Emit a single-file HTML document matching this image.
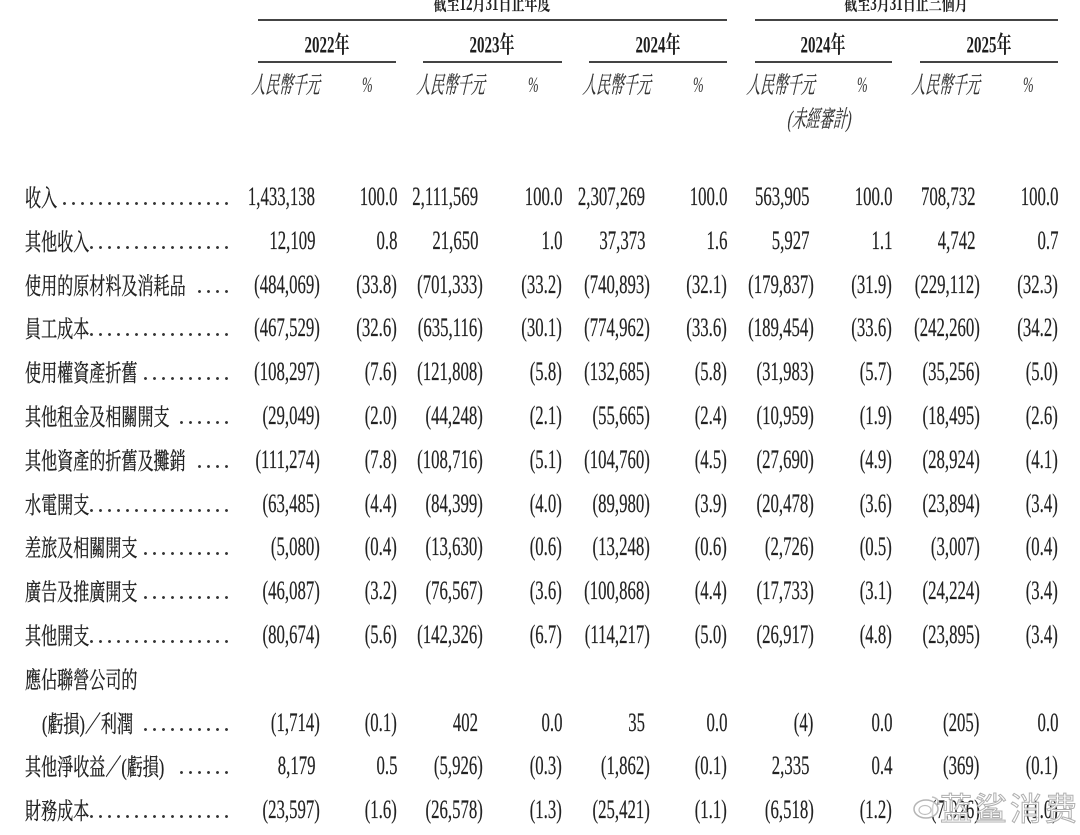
<!DOCTYPE html>
<html><head><meta charset="utf-8">
<style>
html,body{margin:0;padding:0;background:#fff;}
body{width:1080px;height:835px;position:relative;overflow:hidden;color:#222;}
.ln{position:absolute;height:2px;background:#444;}
.h{position:absolute;width:300px;text-align:center;font:bold 20px/20px "Liberation Serif","Noto Serif CJK SC",serif;transform:scaleX(.65);transform-origin:50% 50%;white-space:nowrap;color:#222;}
.y{position:absolute;width:200px;text-align:center;font:bold 22px/22px "Liberation Serif","Noto Serif CJK SC",serif;transform:scaleX(.68) scaleY(1.05);transform-origin:50% 50%;white-space:nowrap;top:34px;color:#1e1e1e;}
.u{position:absolute;top:76px;font:italic 20px/20px "Liberation Serif","Noto Serif CJK SC",serif;transform:scaleX(.68) scaleY(1.18) skewX(-8deg);transform-origin:0 50%;white-space:nowrap;color:#333;-webkit-text-stroke:.2px #333;}
.pc{position:absolute;top:75px;font:italic 22px/20px "Liberation Serif",serif;transform:scaleX(.58);transform-origin:0 50%;color:#333;}
.r{position:absolute;left:0;width:1080px;height:30px;}
.l{position:absolute;left:25px;top:6px;font:21px/20px "Liberation Serif","Noto Serif CJK SC",serif;transform:scaleX(.765) scaleY(1.12);transform-origin:0 50%;white-space:nowrap;-webkit-text-stroke:.3px #222;}
.d{position:absolute;top:20px;height:3px;background:radial-gradient(circle,#333 1.2px,transparent 1.7px) right top/9px 3px repeat-x;}
.d19{left:60px;width:171px}.d16{left:87px;width:144px}.d10{left:141px;width:90px}.d6{left:177px;width:54px}.d4{left:195px;width:36px}
.n{position:absolute;top:0;font:26px/30px "Liberation Serif",serif;transform:scaleX(.645);transform-origin:100% 50%;white-space:nowrap;-webkit-text-stroke:.2px #222;}
.a1{right:765px}.a2{right:602px}.a3{right:435px}.a4{right:271px}.a5{right:105px}
.b1{right:760.5px}.b2{right:597.5px}.b3{right:430.5px}.b4{right:266.5px}.b5{right:100.5px}
.p1{right:683px}.p2{right:518px}.p3{right:353px}.p4{right:188px}.p5{right:22px}
.wm{position:absolute;left:940px;top:791px;font:32px/32px "Noto Sans CJK SC",sans-serif;letter-spacing:3px;color:rgba(255,255,255,.85);-webkit-text-stroke:1px #b0b0b0;white-space:nowrap;}
</style></head>
<body>

<div class="h" style="left:342px;top:-6px">截至12月31日止年度</div>
<div class="h" style="left:756px;top:-6px">截至3月31日止三個月</div>
<div class="ln" style="top:19px;left:258px;width:469px"></div>
<div class="ln" style="top:19px;left:755px;width:303px"></div>

<div class="y" style="left:227px">2022年</div>
<div class="y" style="left:392px">2023年</div>
<div class="y" style="left:558px">2024年</div>
<div class="y" style="left:723px">2024年</div>
<div class="y" style="left:889px">2025年</div>

<div class="ln" style="top:61px;left:258px;width:138px"></div>
<div class="ln" style="top:61px;left:423px;width:139px"></div>
<div class="ln" style="top:61px;left:589px;width:138px"></div>
<div class="ln" style="top:61px;left:755px;width:137px"></div>
<div class="ln" style="top:61px;left:920px;width:138px"></div>

<div class="u" style="left:252px">人民幣千元</div><div class="pc" style="left:362px">%</div>
<div class="u" style="left:417px">人民幣千元</div><div class="pc" style="left:528px">%</div>
<div class="u" style="left:583px">人民幣千元</div><div class="pc" style="left:693px">%</div>
<div class="u" style="left:747px">人民幣千元</div><div class="pc" style="left:857px">%</div>
<div class="u" style="left:912px">人民幣千元</div><div class="pc" style="left:1023px">%</div>
<div class="u" style="left:788px;top:110px">(未經審計)</div>

<div class="r" style="top:182px"><div class="l">收入</div><div class="d d19"></div>
<span class="n a1">1,433,138</span><span class="n p1">100.0</span><span class="n a2">2,111,569</span><span class="n p2">100.0</span><span class="n a3">2,307,269</span><span class="n p3">100.0</span><span class="n a4">563,905</span><span class="n p4">100.0</span><span class="n a5">708,732</span><span class="n p5">100.0</span></div>

<div class="r" style="top:225.8px"><div class="l">其他收入</div><div class="d d16"></div>
<span class="n a1">12,109</span><span class="n p1">0.8</span><span class="n a2">21,650</span><span class="n p2">1.0</span><span class="n a3">37,373</span><span class="n p3">1.6</span><span class="n a4">5,927</span><span class="n p4">1.1</span><span class="n a5">4,742</span><span class="n p5">0.7</span></div>

<div class="r" style="top:269.6px"><div class="l">使用的原材料及消耗品</div><div class="d d4"></div>
<span class="n b1">(484,069)</span><span class="n p1">(33.8)</span><span class="n b2">(701,333)</span><span class="n p2">(33.2)</span><span class="n b3">(740,893)</span><span class="n p3">(32.1)</span><span class="n b4">(179,837)</span><span class="n p4">(31.9)</span><span class="n b5">(229,112)</span><span class="n p5">(32.3)</span></div>

<div class="r" style="top:313.4px"><div class="l">員工成本</div><div class="d d16"></div>
<span class="n b1">(467,529)</span><span class="n p1">(32.6)</span><span class="n b2">(635,116)</span><span class="n p2">(30.1)</span><span class="n b3">(774,962)</span><span class="n p3">(33.6)</span><span class="n b4">(189,454)</span><span class="n p4">(33.6)</span><span class="n b5">(242,260)</span><span class="n p5">(34.2)</span></div>

<div class="r" style="top:357.2px"><div class="l">使用權資產折舊</div><div class="d d10"></div>
<span class="n b1">(108,297)</span><span class="n p1">(7.6)</span><span class="n b2">(121,808)</span><span class="n p2">(5.8)</span><span class="n b3">(132,685)</span><span class="n p3">(5.8)</span><span class="n b4">(31,983)</span><span class="n p4">(5.7)</span><span class="n b5">(35,256)</span><span class="n p5">(5.0)</span></div>

<div class="r" style="top:401px"><div class="l">其他租金及相關開支</div><div class="d d6"></div>
<span class="n b1">(29,049)</span><span class="n p1">(2.0)</span><span class="n b2">(44,248)</span><span class="n p2">(2.1)</span><span class="n b3">(55,665)</span><span class="n p3">(2.4)</span><span class="n b4">(10,959)</span><span class="n p4">(1.9)</span><span class="n b5">(18,495)</span><span class="n p5">(2.6)</span></div>

<div class="r" style="top:444.8px"><div class="l">其他資產的折舊及攤銷</div><div class="d d4"></div>
<span class="n b1">(111,274)</span><span class="n p1">(7.8)</span><span class="n b2">(108,716)</span><span class="n p2">(5.1)</span><span class="n b3">(104,760)</span><span class="n p3">(4.5)</span><span class="n b4">(27,690)</span><span class="n p4">(4.9)</span><span class="n b5">(28,924)</span><span class="n p5">(4.1)</span></div>

<div class="r" style="top:488.6px"><div class="l">水電開支</div><div class="d d16"></div>
<span class="n b1">(63,485)</span><span class="n p1">(4.4)</span><span class="n b2">(84,399)</span><span class="n p2">(4.0)</span><span class="n b3">(89,980)</span><span class="n p3">(3.9)</span><span class="n b4">(20,478)</span><span class="n p4">(3.6)</span><span class="n b5">(23,894)</span><span class="n p5">(3.4)</span></div>

<div class="r" style="top:532.4px"><div class="l">差旅及相關開支</div><div class="d d10"></div>
<span class="n b1">(5,080)</span><span class="n p1">(0.4)</span><span class="n b2">(13,630)</span><span class="n p2">(0.6)</span><span class="n b3">(13,248)</span><span class="n p3">(0.6)</span><span class="n b4">(2,726)</span><span class="n p4">(0.5)</span><span class="n b5">(3,007)</span><span class="n p5">(0.4)</span></div>

<div class="r" style="top:576.2px"><div class="l">廣告及推廣開支</div><div class="d d10"></div>
<span class="n b1">(46,087)</span><span class="n p1">(3.2)</span><span class="n b2">(76,567)</span><span class="n p2">(3.6)</span><span class="n b3">(100,868)</span><span class="n p3">(4.4)</span><span class="n b4">(17,733)</span><span class="n p4">(3.1)</span><span class="n b5">(24,224)</span><span class="n p5">(3.4)</span></div>

<div class="r" style="top:620px"><div class="l">其他開支</div><div class="d d16"></div>
<span class="n b1">(80,674)</span><span class="n p1">(5.6)</span><span class="n b2">(142,326)</span><span class="n p2">(6.7)</span><span class="n b3">(114,217)</span><span class="n p3">(5.0)</span><span class="n b4">(26,917)</span><span class="n p4">(4.8)</span><span class="n b5">(23,895)</span><span class="n p5">(3.4)</span></div>

<div class="r" style="top:663.8px"><div class="l">應佔聯營公司的</div></div>

<div class="r" style="top:707.6px"><div class="l" style="left:42px">(虧損)／利潤</div><div class="d d10"></div>
<span class="n b1">(1,714)</span><span class="n p1">(0.1)</span><span class="n a2">402</span><span class="n p2">0.0</span><span class="n a3">35</span><span class="n p3">0.0</span><span class="n b4">(4)</span><span class="n p4">0.0</span><span class="n b5">(205)</span><span class="n p5">0.0</span></div>

<div class="r" style="top:751.4px"><div class="l">其他淨收益／(虧損)</div><div class="d d6"></div>
<span class="n a1">8,179</span><span class="n p1">0.5</span><span class="n b2">(5,926)</span><span class="n p2">(0.3)</span><span class="n b3">(1,862)</span><span class="n p3">(0.1)</span><span class="n a4">2,335</span><span class="n p4">0.4</span><span class="n b5">(369)</span><span class="n p5">(0.1)</span></div>

<div class="r" style="top:795.2px"><div class="l">財務成本</div><div class="d d16"></div>
<span class="n b1">(23,597)</span><span class="n p1">(1.6)</span><span class="n b2">(26,578)</span><span class="n p2">(1.3)</span><span class="n b3">(25,421)</span><span class="n p3">(1.1)</span><span class="n b4">(6,518)</span><span class="n p4">(1.2)</span><span class="n b5">(7,026)</span><span class="n p5">(1.0)</span></div>

<svg style="position:absolute;left:912px;top:792px" width="30" height="30" viewBox="0 0 30 30">
<ellipse cx="14" cy="17" rx="12" ry="9" fill="rgba(255,255,255,.8)" stroke="#b5b5b5" stroke-width="1.5"/>
<ellipse cx="13" cy="18" rx="6" ry="4.5" fill="none" stroke="#c0c0c0" stroke-width="1.2"/>
<path d="M20 5 Q27 6 27 13" fill="none" stroke="#c0c0c0" stroke-width="1.5"/>
</svg>
<div class="wm">蓝鲨消费</div>

</body></html>
